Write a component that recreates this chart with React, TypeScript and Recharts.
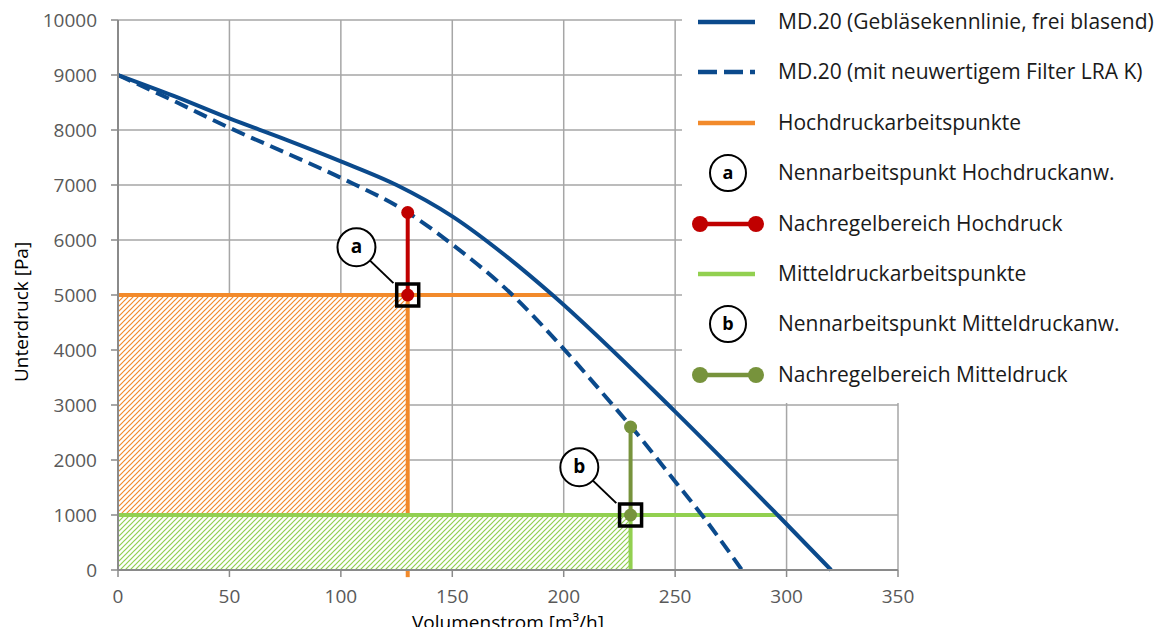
import React from 'react';
import {
  ComposedChart,
  Line,
  XAxis,
  YAxis,
  CartesianGrid,
  ReferenceArea,
  ReferenceDot,
  ReferenceLine,
  Label,
} from 'recharts';

// Gebläsekennlinie frei blasend
const freeFlow = [0, 25, 50, 75, 100, 125, 150, 175, 195, 250, 296, 320];
const freePressure = [9000, 8620, 8210, 7830, 7430, 7000, 6430, 5680, 5000, 2880, 1000, 0];

// mit neuwertigem Filter LRA K
const filterFlow = [0, 25, 50, 75, 100, 130, 150, 177, 200, 222, 230, 250, 262, 280];
const filterPressure = [9000, 8530, 8040, 7590, 7130, 6500, 5920, 5000, 4020, 3000, 2620, 1610, 1000, 0];

// Hochdruck
const hdHorizFlow = [0, 195];
const hdHorizPressure = [5000, 5000];
const hdVertFlow = [130, 130];
const hdVertPressure = [5000, 1000];
const hdRangeFlow = [130, 130];
const hdRangePressure = [5000, 6500];
const hdAreaFlow = [0, 130];
const hdAreaPressure = [1000, 5000];

// Mitteldruck
const mdHorizFlow = [0, 296];
const mdHorizPressure = [1000, 1000];
const mdVertFlow = [230, 230];
const mdVertPressure = [1000, 0];
const mdRangeFlow = [230, 230];
const mdRangePressure = [1000, 2600];
const mdAreaFlow = [0, 230];
const mdAreaPressure = [0, 1000];

// Nennarbeitspunkte
const nennLabels = ['a', 'b'];
const nennFlow = [130, 230];
const nennPressure = [5000, 1000];
const nennLabelFlow = [107, 207];
const nennLabelPressure = [5870, 1870];

const xTicks = [0, 50, 100, 150, 200, 250, 300, 350];
const yTicks = [0, 1000, 2000, 3000, 4000, 5000, 6000, 7000, 8000, 9000, 10000];
const xMinorTicks = Array.from({ length: 36 }, (_, i) => i * 10);
const yMinorTicks = Array.from({ length: 51 }, (_, i) => i * 200);

const legendItems = [
  'MD.20 (Gebläsekennlinie, frei blasend)',
  'MD.20 (mit neuwertigem Filter LRA K)',
  'Hochdruckarbeitspunkte',
  'Nennarbeitspunkt Hochdruckanw.',
  'Nachregelbereich Hochdruck',
  'Mitteldruckarbeitspunkte',
  'Nennarbeitspunkt Mitteldruckanw.',
  'Nachregelbereich Mitteldruck',
];

const BLUE = '#0B4A8C';
const ORANGE = '#F28A2B';
const LGREEN = '#92D050';
const OLIVE = '#77933C';
const RED = '#C00000';
const GRID = '#A6A6A6';
const AXIS = '#8A8A8A';
const FONT = '"Open Sans", sans-serif';

const pts = (xs: number[], ys: number[]) => xs.map((x, i) => ({ x, y: ys[i] }));

const tickStyle = { fill: '#595959', fontSize: 19, fontFamily: FONT };

const LegendIcon = ({ idx }: { idx: number }) => {
  const y = 20;
  if (idx === 0) return <line x1={8} x2={65} y1={y} y2={y} stroke={BLUE} strokeWidth={4.5} />;
  if (idx === 1) return <line x1={8} x2={65} y1={y} y2={y} stroke={BLUE} strokeWidth={4.5} strokeDasharray="19 7" />;
  if (idx === 2) return <line x1={8} x2={65} y1={y} y2={y} stroke={ORANGE} strokeWidth={4.5} />;
  if (idx === 5) return <line x1={8} x2={65} y1={y} y2={y} stroke={LGREEN} strokeWidth={4.5} />;
  if (idx === 3 || idx === 6)
    return (
      <g>
        <circle cx={38} cy={y} r={18} fill="#fff" stroke="#000" strokeWidth={2} />
        <text x={38} y={y + 6} textAnchor="middle" fontSize={18} fontWeight={700} fontFamily={FONT}>
          {idx === 3 ? 'a' : 'b'}
        </text>
      </g>
    );
  const c = idx === 4 ? RED : OLIVE;
  return (
    <g>
      <line x1={10} x2={66} y1={y} y2={y} stroke={c} strokeWidth={4.5} />
      <circle cx={10} cy={y} r={8} fill={c} />
      <circle cx={66} cy={y} r={8} fill={c} />
    </g>
  );
};

const ChartLegend = () => (
  <div
    style={{
      position: 'absolute',
      left: 682,
      top: 0,
      width: 481,
      height: 403,
      background: '#fff',
    }}
  >
    {legendItems.map((label, i) => (
      <div key={label} style={{ position: 'absolute', left: 0, top: 22 + i * 50.4 - 20, height: 40, width: 481 }}>
        <svg width={80} height={40} style={{ position: 'absolute', left: 8, top: 0 }}>
          <LegendIcon idx={i} />
        </svg>
        <span
          style={{
            position: 'absolute',
            left: 96,
            top: 6,
            fontFamily: FONT,
            fontSize: 21,
            color: '#1a1a1a',
            whiteSpace: 'nowrap',
            lineHeight: '26px',
          }}
        >
          {label}
        </span>
      </div>
    ))}
  </div>
);

const SquareMarker = (p: any) => (
  <rect x={p.cx - 11} y={p.cy - 11} width={22} height={22} fill="none" stroke="#000" strokeWidth={3.5} />
);

const makeCallout = (letter: string) => (p: any) => (
  <g>
    <line x1={p.cx + 12} y1={p.cy + 12} x2={p.cx + 37} y2={p.cy + 36} stroke="#000" strokeWidth={2} />
    <circle cx={p.cx} cy={p.cy} r={19} fill="#fff" stroke="#000" strokeWidth={2} />
    <text x={p.cx} y={p.cy + 6} textAnchor="middle" fontSize={19} fontWeight={700} fontFamily={FONT} fill="#000">
      {letter}
    </text>
  </g>
);

export default function App() {
  return (
    <div style={{ position: 'relative', width: 1163, height: 635, margin: -8, overflow: 'hidden', background: '#fff' }}>
      <svg width={0} height={0} style={{ position: 'absolute' }}>
        <defs>
          <pattern id="hatchOrange" patternUnits="userSpaceOnUse" width={5} height={5}>
            <rect width={5} height={5} fill="#fff" />
            <path d="M0,5 L5,0 M-1,1 L1,-1 M4,6 L6,4" stroke={ORANGE} strokeWidth={1.2} />
          </pattern>
          <pattern id="hatchGreen" patternUnits="userSpaceOnUse" width={5} height={5}>
            <rect width={5} height={5} fill="#fff" />
            <path d="M0,5 L5,0 M-1,1 L1,-1 M4,6 L6,4" stroke={LGREEN} strokeWidth={1.2} />
          </pattern>
        </defs>
      </svg>
      <div
        style={{
          position: 'absolute',
          left: 300,
          top: -18,
          width: 165,
          textAlign: 'right',
          fontFamily: FONT,
          fontSize: 18,
          color: BLUE,
          whiteSpace: 'nowrap',
          lineHeight: '20px',
        }}
      >
        Kennlinie MD.20 (p, V)
      </div>
      <ComposedChart width={1163} height={635} margin={{ top: 20, right: 265, bottom: 0, left: 0 }}>
        <CartesianGrid stroke={GRID} strokeWidth={1.5} />
        <XAxis
          type="number"
          dataKey="x"
          domain={[0, 350]}
          ticks={xTicks}
          height={65}
          tickSize={7}
          tickMargin={13}
          tick={tickStyle}
          stroke={AXIS}
          axisLine={{ stroke: AXIS, strokeWidth: 2 }}
          tickLine={{ stroke: AXIS, strokeWidth: 1.5 }}
        >
          <Label
            content={() => (
              <text x={508} y={629} textAnchor="middle" fontSize={19} fontFamily={FONT} fill="#000">
                Volumenstrom [m³/h]
              </text>
            )}
          />
        </XAxis>
        <XAxis
          xAxisId="minor"
          type="number"
          domain={[0, 350]}
          ticks={xMinorTicks}
          mirror
          tick={false}
          axisLine={false}
          tickSize={5}
          tickLine={{ stroke: AXIS, strokeWidth: 1.2 }}
          height={0}
        />
        <YAxis
          type="number"
          domain={[0, 10000]}
          ticks={yTicks}
          width={118}
          tickSize={7}
          tickMargin={14}
          tick={tickStyle}
          axisLine={{ stroke: AXIS, strokeWidth: 2 }}
          tickLine={{ stroke: AXIS, strokeWidth: 1.5 }}
        >
          <Label
            content={() => (
              <text
                x={28}
                y={312}
                transform="rotate(-90 28 312)"
                textAnchor="middle"
                fontSize={19}
                fontFamily={FONT}
                fill="#000"
              >
                Unterdruck [Pa]
              </text>
            )}
          />
        </YAxis>
        <YAxis
          yAxisId="minor"
          type="number"
          domain={[0, 10000]}
          ticks={yMinorTicks}
          mirror
          tick={false}
          axisLine={false}
          tickSize={5}
          tickLine={{ stroke: AXIS, strokeWidth: 1.2 }}
          width={0}
        />

        <ReferenceArea
          x1={hdAreaFlow[0]}
          x2={hdAreaFlow[1]}
          y1={hdAreaPressure[0]}
          y2={hdAreaPressure[1]}
          fill="url(#hatchOrange)"
          fillOpacity={1}
          stroke="none"
        />
        <ReferenceArea
          x1={mdAreaFlow[0]}
          x2={mdAreaFlow[1]}
          y1={mdAreaPressure[0]}
          y2={mdAreaPressure[1]}
          fill="url(#hatchGreen)"
          fillOpacity={1}
          stroke="none"
        />
        <ReferenceLine
          segment={[
            { x: hdVertFlow[0], y: 0 },
            { x: hdVertFlow[0], y: -130 },
          ]}
          stroke={ORANGE}
          strokeWidth={4}
          ifOverflow="visible"
        />

        <Line
          data={pts(hdHorizFlow, hdHorizPressure)}
          dataKey="y"
          stroke={ORANGE}
          strokeWidth={4}
          dot={false}
          activeDot={false}
          isAnimationActive={false}
        />
        <Line
          data={pts(hdVertFlow, hdVertPressure)}
          dataKey="y"
          stroke={ORANGE}
          strokeWidth={4}
          dot={false}
          activeDot={false}
          isAnimationActive={false}
        />
        <Line
          data={pts(mdHorizFlow, mdHorizPressure)}
          dataKey="y"
          stroke={LGREEN}
          strokeWidth={4}
          dot={false}
          activeDot={false}
          isAnimationActive={false}
        />
        <Line
          data={pts(mdVertFlow, mdVertPressure)}
          dataKey="y"
          stroke={LGREEN}
          strokeWidth={4}
          dot={false}
          activeDot={false}
          isAnimationActive={false}
        />
        <Line
          data={pts(freeFlow, freePressure)}
          dataKey="y"
          type="monotone"
          stroke={BLUE}
          strokeWidth={4}
          dot={false}
          activeDot={false}
          isAnimationActive={false}
        />
        <Line
          data={pts(filterFlow, filterPressure)}
          dataKey="y"
          type="monotone"
          stroke={BLUE}
          strokeWidth={4}
          strokeDasharray="14 7"
          dot={false}
          activeDot={false}
          isAnimationActive={false}
        />
        <Line
          data={pts(hdRangeFlow, hdRangePressure)}
          dataKey="y"
          stroke={RED}
          strokeWidth={4}
          dot={{ r: 6.5, fill: RED, stroke: RED, strokeWidth: 0 }}
          activeDot={false}
          isAnimationActive={false}
        />
        <Line
          data={pts(mdRangeFlow, mdRangePressure)}
          dataKey="y"
          stroke={OLIVE}
          strokeWidth={4}
          dot={{ r: 6.5, fill: OLIVE, stroke: OLIVE, strokeWidth: 0 }}
          activeDot={false}
          isAnimationActive={false}
        />

        {nennLabels.map((l, i) => (
          <ReferenceDot
            key={'sq' + l}
            x={nennFlow[i]}
            y={nennPressure[i]}
            r={11}
            shape={SquareMarker}
            ifOverflow="visible"
          />
        ))}
        {nennLabels.map((l, i) => (
          <ReferenceDot
            key={'lb' + l}
            x={nennLabelFlow[i]}
            y={nennLabelPressure[i]}
            r={19}
            shape={makeCallout(l)}
            ifOverflow="visible"
          />
        ))}
      </ComposedChart>
      <ChartLegend />
    </div>
  );
}
